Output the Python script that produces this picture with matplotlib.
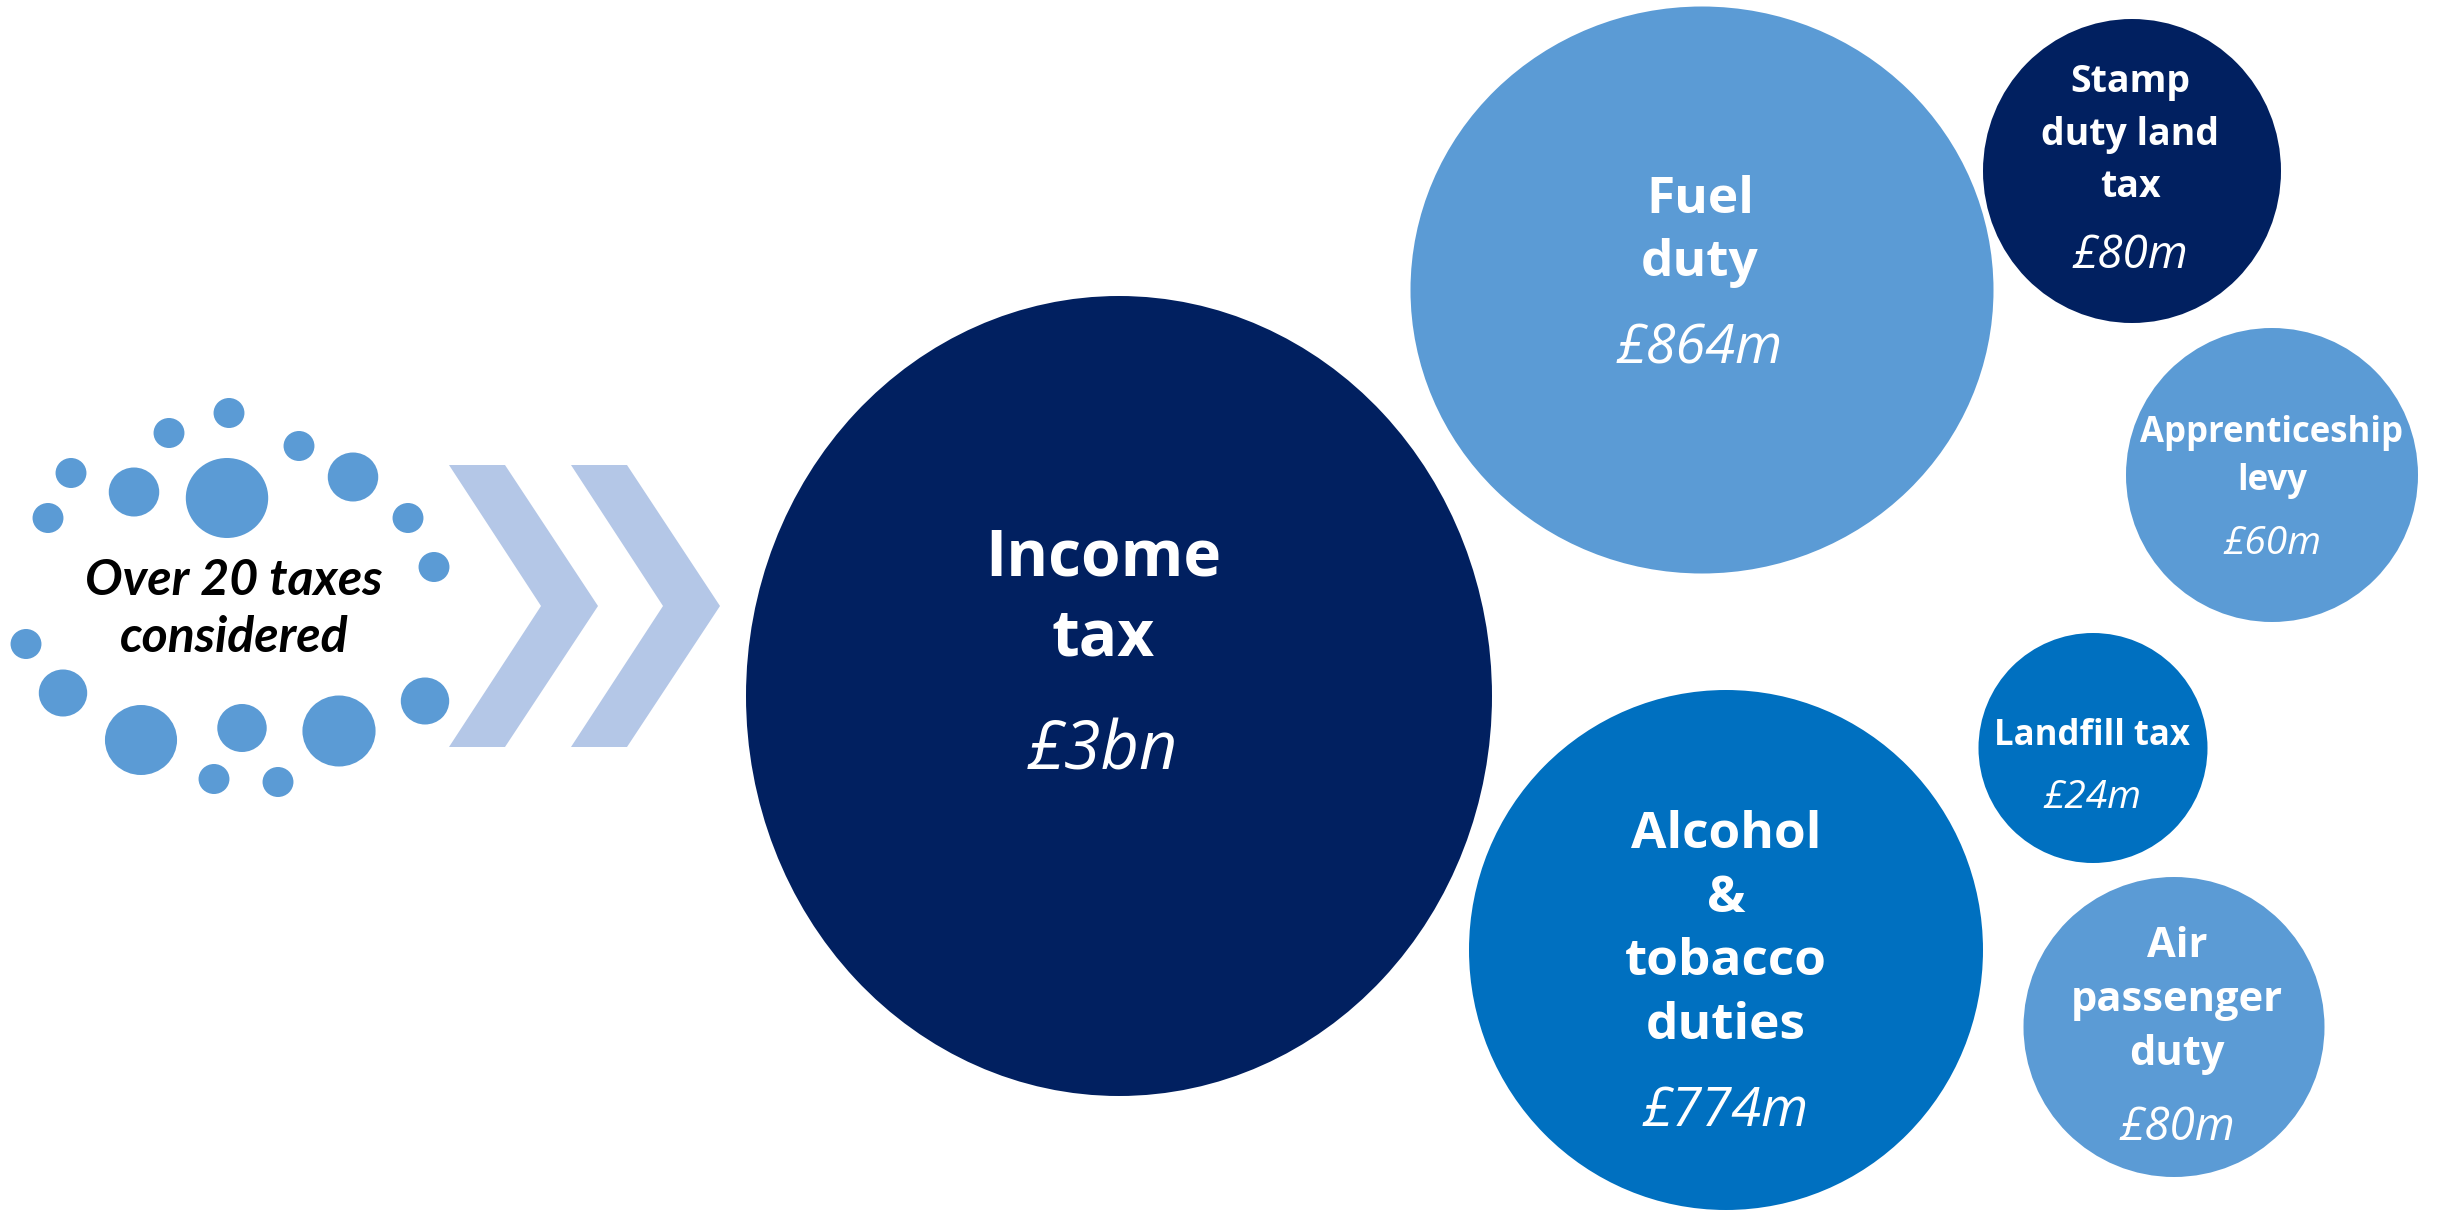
import matplotlib
matplotlib.use("Agg")
import matplotlib.pyplot as plt
from matplotlib.patches import Ellipse, Polygon

# taxes and their yields
taxes = ["Income\ntax", "Fuel\nduty", "Alcohol\n&\ntobacco\nduties",
         "Stamp\nduty land\ntax", "Apprenticeship\nlevy", "Landfill tax",
         "Air\npassenger\nduty"]
values = ["£3bn", "£864m", "£774m", "£80m", "£60m", "£24m", "£80m"]

# bubble layout (pixel units, y down)
cx = [1119, 1702, 1726, 2132, 2272, 2093, 2174]
cy = [696, 290, 950, 171, 475, 748, 1027]
w = [746, 583, 514, 298, 292, 229, 301]
h = [800, 567, 520, 304, 294, 230, 300]
text_x = [1103, 1700, 1726, 2130, 2272, 2092, 2177]
colors = ["#012060", "#5B9BD5", "#0070C0", "#012060", "#5B9BD5", "#0070C0", "#5B9BD5"]
label_size = [46, 37, 37, 27, 25, 25, 30]
value_size = [48, 39, 39, 33, 28, 28, 33]
# baselines: first label line, spacing between lines, value line
label_base = [576, 213, 848, 92, 442, 745, 957]
line_gap = [79, 63, 63.7, 52.5, 48, 0, 54]
value_base = [769, 363, 1126, 268, 554, 808, 1140]

# scattered dots round the intro text
dot_x = [229, 169, 299, 71, 134, 227, 353, 48, 408, 434, 26, 63, 425, 141, 242, 339, 214, 278]
dot_y = [413, 433, 446, 473, 492, 498, 477, 518, 518, 567, 644, 693, 701, 740, 728, 731, 779, 782]
dot_r = [15, 15, 15, 15, 24.5, 40, 24.5, 15, 15, 15, 15, 23.5, 23.5, 35, 24, 35.5, 15, 15]

fig = plt.figure(figsize=(24.38, 12.12), dpi=100)
ax = fig.add_axes([0, 0, 1, 1])
ax.set_xlim(0, 2438)
ax.set_ylim(1212, 0)
ax.axis("off")

for x, y, r in zip(dot_x, dot_y, dot_r):
    ax.add_patch(Ellipse((x, y), 2 * r * 1.03, 2 * r, color="#5B9BD5", lw=0))

for line, yb in zip(["Over 20 taxes", "considered"], [595, 652]):
    ax.text(234, yb, line, family="Lato", weight="bold", style="italic",
            fontsize=36, ha="center", va="baseline", color="black")

# two chevrons
for x0 in [449, 571]:
    pts = [(x0, 465), (x0 + 56, 465), (x0 + 149, 606), (x0 + 56, 747),
           (x0, 747), (x0 + 92, 606)]
    ax.add_patch(Polygon(pts, closed=True, color="#B4C7E7", lw=0))

for i, name in enumerate(taxes):
    ax.add_patch(Ellipse((cx[i], cy[i]), w[i], h[i], color=colors[i], lw=0))
    for j, line in enumerate(name.split("\n")):
        ax.text(text_x[i], label_base[i] + j * line_gap[i], line, family="Open Sans",
                weight="bold", fontsize=label_size[i], color="white",
                ha="center", va="baseline")
    ax.text(text_x[i], value_base[i], values[i], family="Open Sans", style="italic",
            fontsize=value_size[i], color="white", ha="center", va="baseline")

fig.savefig("out.png", dpi=100, facecolor="white")
